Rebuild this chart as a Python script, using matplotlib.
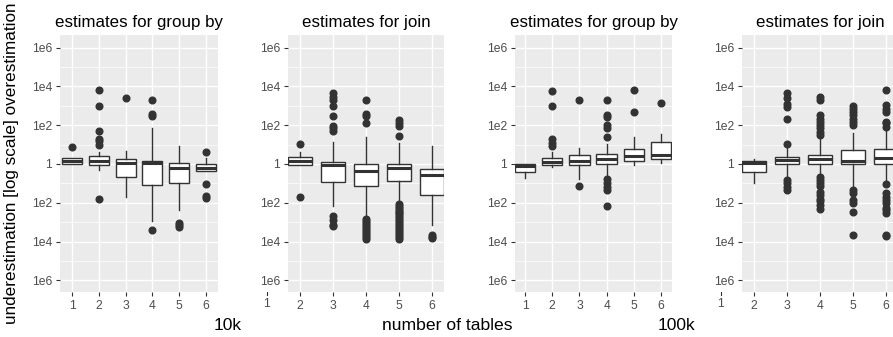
import numpy as np
import matplotlib
matplotlib.use("Agg")
import matplotlib.pyplot as plt

plt.rcParams['font.family'] = ['Liberation Sans', 'DejaVu Sans']

# box stats per panel, log10 of estimate ratio: [whislo, q1, med, q3, whishi]
titles = ["estimates for group by", "estimates for join",
          "estimates for group by", "estimates for join"]

pos_gb10k = [1, 2, 3, 4, 5, 6]
box_gb10k = [[0.0, 0.0, 0.15, 0.29, 0.29],
             [-0.31, -0.03, 0.17, 0.41, 0.63],
             [-1.7, -0.67, 0.03, 0.26, 0.68],
             [-2.96, -1.08, 0.07, 0.17, 1.83],
             [-2.36, -0.96, -0.19, 0.03, 0.94],
             [-0.36, -0.36, -0.19, 0.02, 0.32]]
out_gb10k = [[0.86],
             [3.8, 3.0, 1.7, 1.3, 1.2, 1.0, -1.8],
             [3.4],
             [3.28, 2.6, 2.48, -3.38],
             [-3.04, -3.15, -3.25],
             [0.63, -1.01, -1.64, -1.74]]

pos_j10k = [2, 3, 4, 5, 6]
box_j10k = [[-0.03, -0.03, 0.15, 0.34, 0.63],
            [-2.19, -0.91, -0.03, 0.12, 1.15],
            [-2.75, -1.13, -0.34, 0.02, 1.37],
            [-1.93, -0.87, -0.2, 0.02, 1.06],
            [-3.15, -1.62, -0.55, -0.26, 0.92]]
out_j10k = [[1.03, -1.71],
            [3.66, 3.45, 3.28, 2.97, 2.46, 1.95, 1.83, 1.69, -2.67, -2.87, -3.13, -3.2],
            [3.28, 2.6, 2.46, 2.09, -2.85, -2.95, -3.05, -3.15, -3.25, -3.35, -3.45,
             -3.55, -3.65, -3.75, -3.85],
            [2.26, 2.12, 1.95, 1.44, -2.05, -2.15, -2.25, -2.35, -2.45, -2.55, -2.65,
             -2.75, -2.85, -2.95, -3.05, -3.15, -3.25, -3.35, -3.45, -3.55, -3.65,
             -3.75, -3.85],
            [-3.68, -3.76, -3.83]]

pos_gb100k = [1, 2, 3, 4, 5, 6]
box_gb100k = [[-0.74, -0.43, -0.1, -0.02, -0.02],
              [-0.14, -0.07, 0.1, 0.31, 0.63],
              [-0.77, -0.07, 0.15, 0.46, 0.84],
              [-0.68, 0.0, 0.26, 0.5, 1.03],
              [-0.05, 0.17, 0.43, 0.77, 1.4],
              [0.03, 0.24, 0.44, 1.11, 1.57]]
out_gb100k = [[],
              [3.74, 2.99, 1.28, 1.09, 0.92],
              [3.3, -1.13],
              [3.28, 2.51, 2.43, 2.0, 1.86, 1.4, -0.77, -0.96, -1.21, -1.33, -2.19],
              [3.83, 2.68],
              [3.15]]

pos_j100k = [2, 3, 4, 5, 6]
box_j100k = [[-0.96, -0.43, 0.03, 0.17, 0.26],
             [-0.6, -0.02, 0.2, 0.38, 0.8],
             [-0.56, 0.0, 0.26, 0.46, 1.4],
             [-1.25, 0.0, 0.17, 0.72, 1.61],
             [-0.82, 0.0, 0.29, 0.77, 1.74]]
out_j100k = [[],
             [3.66, 3.4, 3.11, 2.94, 2.34, 1.03, -0.85, -0.98, -1.2, -1.35],
             [3.45, 3.28, 2.51, 2.34, 2.17, 2.0, 1.83, 1.66, 1.49,
              -0.65, -0.82, -0.99, -1.16, -1.42, -1.59, -1.81, -1.93, -2.1, -2.31],
             [2.97, 2.85, 2.68, 2.51, 2.34, 2.17, 2.0, -1.33, -1.5, -1.85, -2.02, -2.48, -3.64],
             [3.83, 3.06, 2.85, 2.68, 2.17, 2.09, 1.91, -1.03, -1.5, -1.68, -1.85, -2.02,
              -2.27, -2.39, -2.53, -3.64, -3.73]]

ytick_exp = [6, 4, 2, 0, -2, -4, -6]
ytick_labels = ["1e6", "1e4", "1e2", "1", "1e2", "1e4", "1e6"]
yminor_exp = [5, 3, 1, -1, -3, -5]

panels = [(pos_gb10k, box_gb10k, out_gb10k),
          (pos_j10k, box_j10k, out_j10k),
          (pos_gb100k, box_gb100k, out_gb100k),
          (pos_j100k, box_j100k, out_j100k)]

W, H = 893, 337
fig = plt.figure(figsize=(W / 100, H / 100), dpi=100)

# panel rectangles in pixels: left, width ; x limits
lefts = [60, 288, 515, 742]
widths = [158, 156, 157, 156]
xlims = [(0.55, 6.45), (1.64, 6.36), (0.63, 6.4), (1.64, 6.36)]
top, bottom = 35, 292

edge = '#333333'
for i, (pos, boxes, outs) in enumerate(panels):
    ax = fig.add_axes([lefts[i] / W, 1 - bottom / H, widths[i] / W, (bottom - top) / H])
    ax.set_facecolor('#EBEBEB')
    for s in ax.spines.values():
        s.set_visible(False)
    ax.set_yscale('log')
    stats = []
    for b, o in zip(boxes, outs):
        stats.append(dict(whislo=10 ** b[0], q1=10 ** b[1], med=10 ** b[2],
                          q3=10 ** b[3], whishi=10 ** b[4],
                          fliers=[10 ** v for v in o]))
    ax.bxp(stats, positions=pos, widths=0.75, showcaps=False, patch_artist=True,
           boxprops=dict(facecolor='white', edgecolor=edge, linewidth=1.0),
           medianprops=dict(color=edge, linewidth=2.2, solid_capstyle='butt'),
           whiskerprops=dict(color=edge, linewidth=1.0),
           flierprops=dict(marker='o', markerfacecolor=edge, markeredgecolor=edge,
                           markersize=4.8, linestyle='none'),
           zorder=3)
    ax.set_xlim(*xlims[i])
    ax.set_ylim(10 ** -6.6, 10 ** 6.65)
    ax.set_yticks([10.0 ** e for e in ytick_exp])
    ax.set_yticklabels(ytick_labels)
    ax.set_yticks([10.0 ** e for e in yminor_exp], minor=True)
    ax.set_yticklabels([], minor=True)
    xt = [1, 2, 3, 4, 5, 6] if i in (0, 2) else [2, 3, 4, 5, 6]
    ax.set_xticks(xt)
    ax.set_xticklabels([str(t) for t in xt])
    ax.tick_params(which='major', length=3.2, width=0.8, color=edge,
                   labelcolor='#4D4D4D', labelsize=8.7, pad=2.5)
    ax.tick_params(which='minor', length=0)
    ax.grid(which='major', color='white', linewidth=1.0, zorder=0)
    ax.grid(which='minor', axis='y', color='white', linewidth=0.5, zorder=0)
    ax.set_axisbelow(True)
    ax.set_title(titles[i], fontsize=12.2, pad=6)
    if i in (1, 3):
        # the "1" tick sits left of the drawn panel
        tr = ax.get_xaxis_transform()
        ax.plot([1, 1], [0, -0.0125], transform=tr, color=edge, lw=0.8, clip_on=False)
        ax.text(1, -0.024, "1", transform=tr, ha='center', va='top',
                fontsize=8.7, color='#4D4D4D', clip_on=False)

fig.text(12 / W, 1 - 163 / H, "underestimation [log scale] overestimation",
         rotation=90, ha='center', va='center', fontsize=12.3)
fig.text(228 / W, 1 - 325 / H, "10k", ha='center', va='center', fontsize=12.6)
fig.text(447 / W, 1 - 325 / H, "number of tables", ha='center', va='center', fontsize=12.6)
fig.text(676 / W, 1 - 325 / H, "100k", ha='center', va='center', fontsize=12.6)

fig.savefig("out.png", dpi=100)
